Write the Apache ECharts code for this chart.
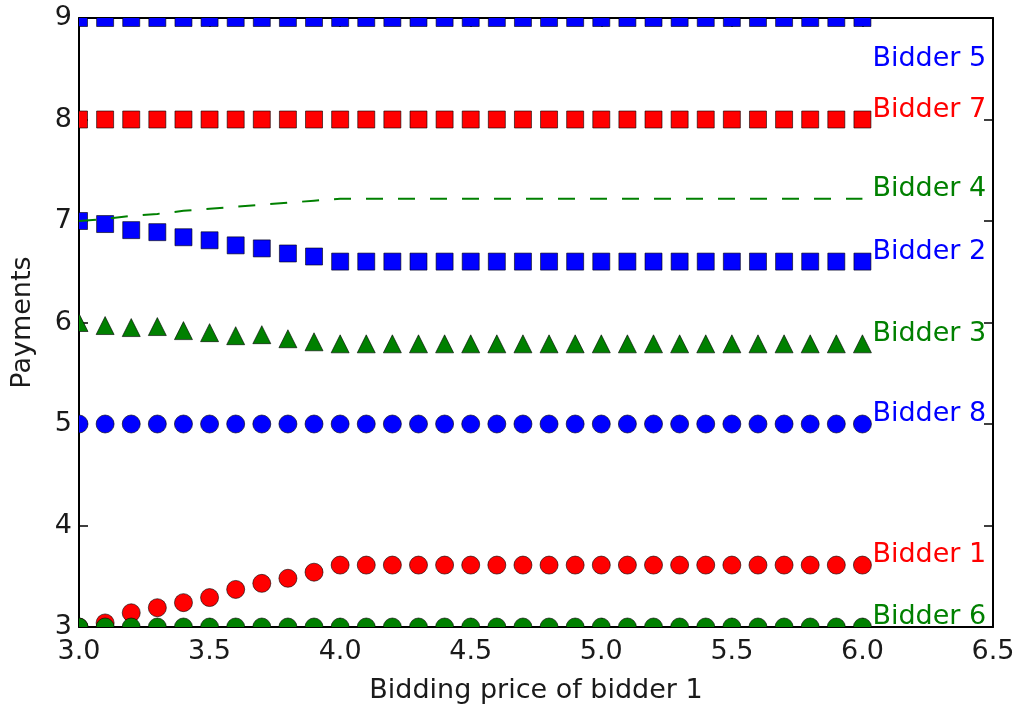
<!DOCTYPE html>
<html><head><meta charset="utf-8">
<script src="https://cdn.jsdelivr.net/npm/echarts@6/dist/echarts.min.js"></script>
<style>html,body{margin:0;padding:0;background:#fff}#c{width:1018px;height:708px}</style>
</head><body><div id="c"></div>
<script>
const bids = [3.0,3.1,3.2,3.3,3.4,3.5,3.6,3.7,3.8,3.9,4.0,4.1,4.2,4.3,4.4,4.5,4.6,4.7,4.8,4.9,5.0,5.1,5.2,5.3,5.4,5.5,5.6,5.7,5.8,5.9,6.0];
const bidder1 = [3.00,3.04,3.14,3.19,3.24,3.29,3.37,3.43,3.48,3.54,3.61,3.61,3.61,3.61,3.61,3.61,3.61,3.61,3.61,3.61,3.61,3.61,3.61,3.61,3.61,3.61,3.61,3.61,3.61,3.61,3.61];
const bidder2 = [7.00,6.97,6.91,6.89,6.84,6.81,6.76,6.73,6.68,6.65,6.60,6.60,6.60,6.60,6.60,6.60,6.60,6.60,6.60,6.60,6.60,6.60,6.60,6.60,6.60,6.60,6.60,6.60,6.60,6.60,6.60];
const bidder3 = [6.00,5.97,5.95,5.96,5.92,5.90,5.87,5.88,5.84,5.81,5.79,5.79,5.79,5.79,5.79,5.79,5.79,5.79,5.79,5.79,5.79,5.79,5.79,5.79,5.79,5.79,5.79,5.79,5.79,5.79,5.79];
const bidder4 = [7.00,7.02,7.05,7.07,7.10,7.12,7.14,7.16,7.18,7.20,7.22,7.22,7.22,7.22,7.22,7.22,7.22,7.22,7.22,7.22,7.22,7.22,7.22,7.22,7.22,7.22,7.22,7.22,7.22,7.22,7.22];
const bidder5 = [9,9,9,9,9,9,9,9,9,9,9,9,9,9,9,9,9,9,9,9,9,9,9,9,9,9,9,9,9,9,9];
const bidder6 = [3,3,3,3,3,3,3,3,3,3,3,3,3,3,3,3,3,3,3,3,3,3,3,3,3,3,3,3,3,3,3];
const bidder7 = [8,8,8,8,8,8,8,8,8,8,8,8,8,8,8,8,8,8,8,8,8,8,8,8,8,8,8,8,8,8,8];
const bidder8 = [5,5,5,5,5,5,5,5,5,5,5,5,5,5,5,5,5,5,5,5,5,5,5,5,5,5,5,5,5,5,5];
const names = ['Bidder 1','Bidder 2','Bidder 3','Bidder 4','Bidder 5','Bidder 6','Bidder 7','Bidder 8'];
const labelX = 6.0;
const labelY = [3.61, 6.60, 5.79, 7.22, 8.5, 3.0, 8.0, 5.0];
const xLabel = 'Bidding price of bidder 1';
const yLabel = 'Payments';

const FONT = 'DejaVu Sans';
const FS = 27;
const BLUE = '#0000ff', RED = '#ff0000', GREEN = '#008000';
const EDGE = 'rgba(0,0,0,0.6)';
const all = [bidder1, bidder2, bidder3, bidder4, bidder5, bidder6, bidder7, bidder8];
const styles = [
  {symbol:'circle', size:18, color:RED},
  {symbol:'rect', size:17, color:BLUE},
  {symbol:'triangle', size:18, color:GREEN},
  {line:true, color:GREEN},
  {symbol:'rect', size:17, color:BLUE},
  {symbol:'circle', size:18, color:GREEN},
  {symbol:'rect', size:17, color:RED},
  {symbol:'circle', size:18, color:BLUE}
];

function markerRenderer(st) {
  return function (params, api) {
    const p = api.coord([api.value(0), api.value(1)]);
    const s = st.size, h = s / 2;
    const style = {fill: st.color, stroke: EDGE, lineWidth: 1};
    if (st.symbol === 'rect') {
      return {type:'rect', shape:{x:p[0]-h, y:p[1]-h, width:s, height:s}, style};
    }
    if (st.symbol === 'circle') {
      return {type:'circle', shape:{cx:p[0], cy:p[1], r:h}, style};
    }
    return {type:'polygon', shape:{points:[[p[0], p[1]-h], [p[0]-h, p[1]+h], [p[0]+h, p[1]+h]]}, style};
  };
}

const series = all.map((vals, i) => {
  const st = styles[i];
  const data = bids.map((b, j) => [b, vals[j]]);
  if (st.line) {
    return {
      name: names[i], type:'line', data, symbol:'none', clip:true,
      lineStyle:{color:st.color, width:2, type:[17,15]}, z:2, animation:false
    };
  }
  return {
    name: names[i], type:'custom', data, clip:true, encode:{x:0, y:1},
    renderItem: markerRenderer(st), z:2, animation:false
  };
});

series.push({
  type:'custom', silent:true, clip:false, z:5, animation:false, encode:{x:0, y:1},
  data: names.map((n, i) => [labelX, labelY[i], i]),
  renderItem: function (params, api) {
    const p = api.coord([api.value(0), api.value(1)]);
    const i = api.value(2);
    return {type:'text', x:p[0] + 10, y:p[1] - 10,
      style:{text:names[i], fill:styles[i].color, font: FS + 'px "' + FONT + '"',
        align:'left', verticalAlign:'middle', opacity:1}};
  }
});

const axisCommon = {
  axisLine:{show:true, onZero:false, lineStyle:{color:'#000', width:2}},
  axisTick:{show:true, inside:true, length:9, lineStyle:{color:'#000', width:1.5}},
  splitLine:{show:false}
};

const option = {
  backgroundColor:'#fff',
  animation:false,
  grid:{left:79, right:25, top:18, bottom:81, containLabel:false, outerBoundsMode:'none'},
  xAxis:[
    Object.assign({type:'value', min:3, max:6.5, interval:0.5, position:'bottom',
      name:xLabel, nameLocation:'middle', nameGap:50,
      nameTextStyle:{fontFamily:FONT, fontSize:FS, color:'#1a1a1a'},
      axisLabel:{fontFamily:FONT, fontSize:FS, color:'#1a1a1a', margin:11, formatter:v=>v.toFixed(1)}}, axisCommon),
    Object.assign({type:'value', min:3, max:6.5, interval:0.5, position:'top', axisLabel:{show:false}}, axisCommon)
  ],
  yAxis:[
    Object.assign({type:'value', min:3, max:9, interval:1, position:'left',
      name:yLabel, nameLocation:'middle', nameGap:43,
      nameTextStyle:{fontFamily:FONT, fontSize:FS, color:'#1a1a1a'},
      axisLabel:{fontFamily:FONT, fontSize:FS, color:'#1a1a1a', margin:7}}, axisCommon),
    Object.assign({type:'value', min:3, max:9, interval:1, position:'right', axisLabel:{show:false}}, axisCommon)
  ],
  series
};
const chart = echarts.init(document.getElementById('c'), null, {renderer:'canvas'});
chart.setOption(option);
</script>
</body></html>
